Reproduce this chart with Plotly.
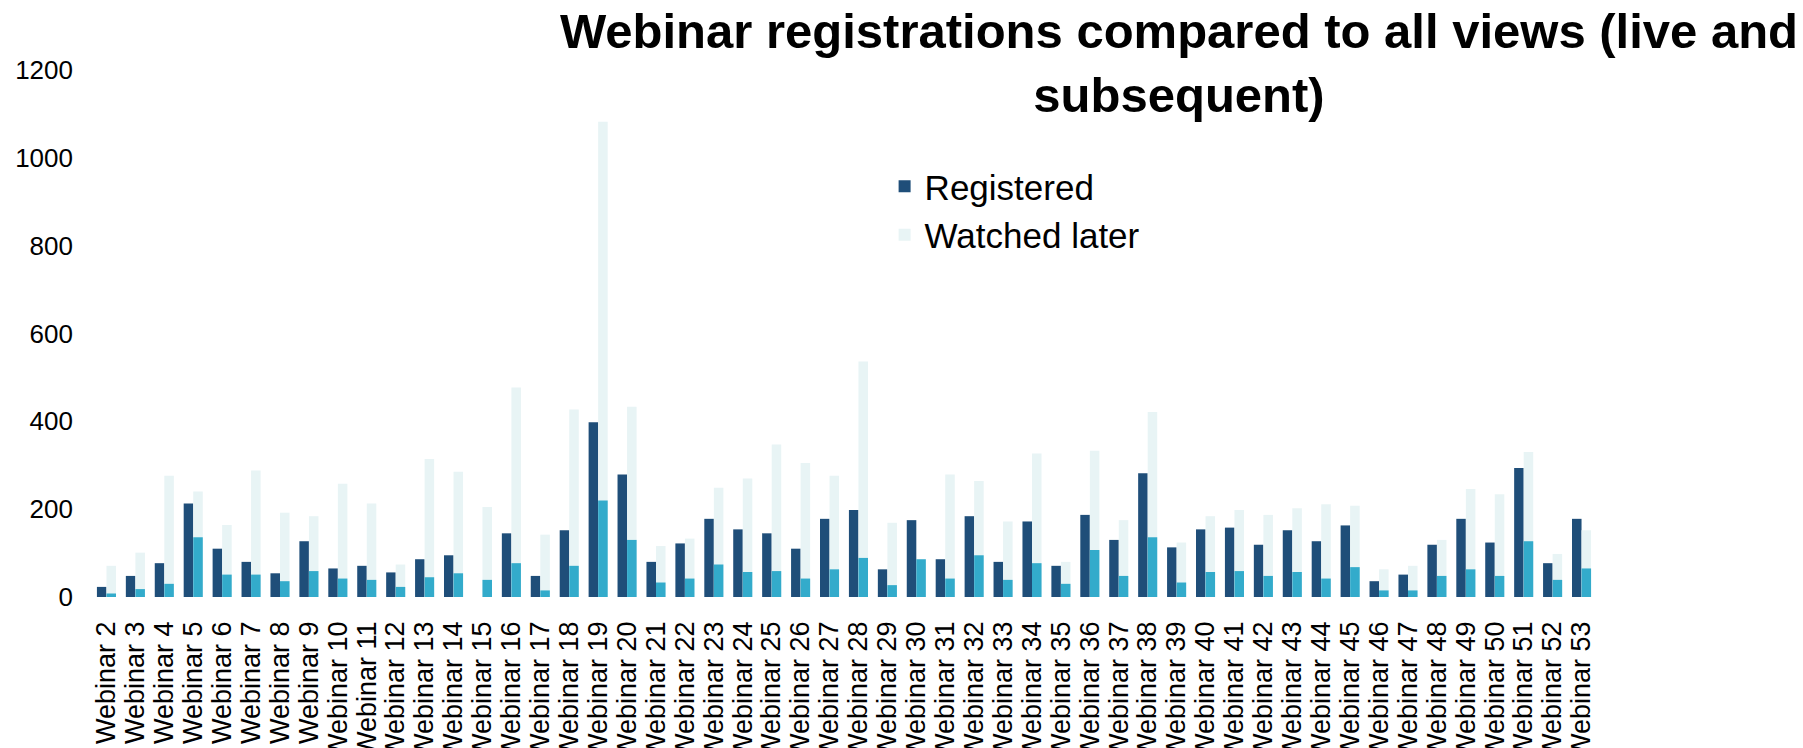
import plotly.graph_objects as go

categories = [f"Webinar {i}" for i in range(2, 54)]

registered = [23, 48, 77, 213, 110, 80, 54, 127, 65, 71, 56, 86, 95, 0, 145, 48, 152,
              398, 279, 80, 122, 178, 154, 145, 110, 178, 198, 63, 175, 86, 184, 80, 172, 71, 187, 130, 282, 113,
              154, 158, 119, 152, 127, 163, 36, 51, 119, 178, 124, 294, 77, 178]

watched_live = [8, 18, 30, 136, 51, 51, 36, 59, 42, 39, 23, 45, 54, 39, 77, 15, 71,
                220, 130, 33, 42, 74, 57, 59, 42, 63, 89, 27, 86, 42, 95, 39, 77, 30, 107, 48, 136, 33,
                57, 59, 48, 57, 42, 68, 15, 15, 48, 63, 48, 127, 39, 65]

watched_later = [71, 101, 276, 240, 164, 288, 192, 184, 258, 213, 74, 314, 285, 205, 477, 142, 427,
                 1082, 433, 116, 133, 249, 270, 347, 305, 276, 536, 169, 0, 279, 264, 172, 327, 80, 333, 175, 421, 124,
                 184, 198, 187, 202, 211, 208, 63, 71, 130, 246, 234, 330, 98, 152]

y_ticks = [0, 200, 400, 600, 800, 1000, 1200]

FONT = "Liberation Sans, Arial, sans-serif"
DARK = "#1F4E79"
CYAN = "#33ABCB"
LIGHT = "#E8F4F5"
W = 0.33

fig = go.Figure()
fig.add_trace(go.Bar(x=categories, y=registered, name="Registered",
                     marker=dict(color=DARK, line=dict(width=0)),
                     width=W, offset=-W))
fig.add_trace(go.Bar(x=categories, y=watched_later, name="Watched later",
                     marker=dict(color=LIGHT, line=dict(width=0)),
                     width=W, offset=0))
fig.add_trace(go.Bar(x=categories, y=watched_live, name="Watched live", showlegend=False,
                     marker=dict(color=CYAN, line=dict(width=0)),
                     width=W, offset=0))

fig.update_layout(
    width=1795, height=740,
    barmode="overlay",
    paper_bgcolor="white", plot_bgcolor="white",
    margin=dict(l=84, r=207, t=62, b=151),
    font=dict(family=FONT, color="#000000"),
    title=dict(text="Webinar registrations compared to all views (live and<br>subsequent)",
               font=dict(family=FONT, size=49, weight="bold", color="#000000"),
               x=1171 / 1795, xref="container", xanchor="center",
               y=0.946, yref="container", yanchor="top"),
    legend=dict(x=0.527, y=0.835, xanchor="left", yanchor="top",
                font=dict(family=FONT, size=35), bgcolor="rgba(0,0,0,0)",
                traceorder="normal"),
    showlegend=True,
    hovermode=False,
)
fig.update_xaxes(type="category", range=[-0.5, len(categories) - 0.5],
                 tickmode="linear", tick0=0, dtick=1, tickangle=-90,
                 tickfont=dict(family=FONT, size=27), showgrid=False,
                 showline=False, zeroline=False, ticks="", ticklabelstandoff=18,
                 automargin=False)
fig.update_yaxes(range=[0, 1200], tickmode="array", tickvals=y_ticks,
                 tickfont=dict(family=FONT, size=26), showgrid=False,
                 showline=False, zeroline=False, ticks="", ticklabelstandoff=18,
                 automargin=False)

fig.write_html("out.html")
